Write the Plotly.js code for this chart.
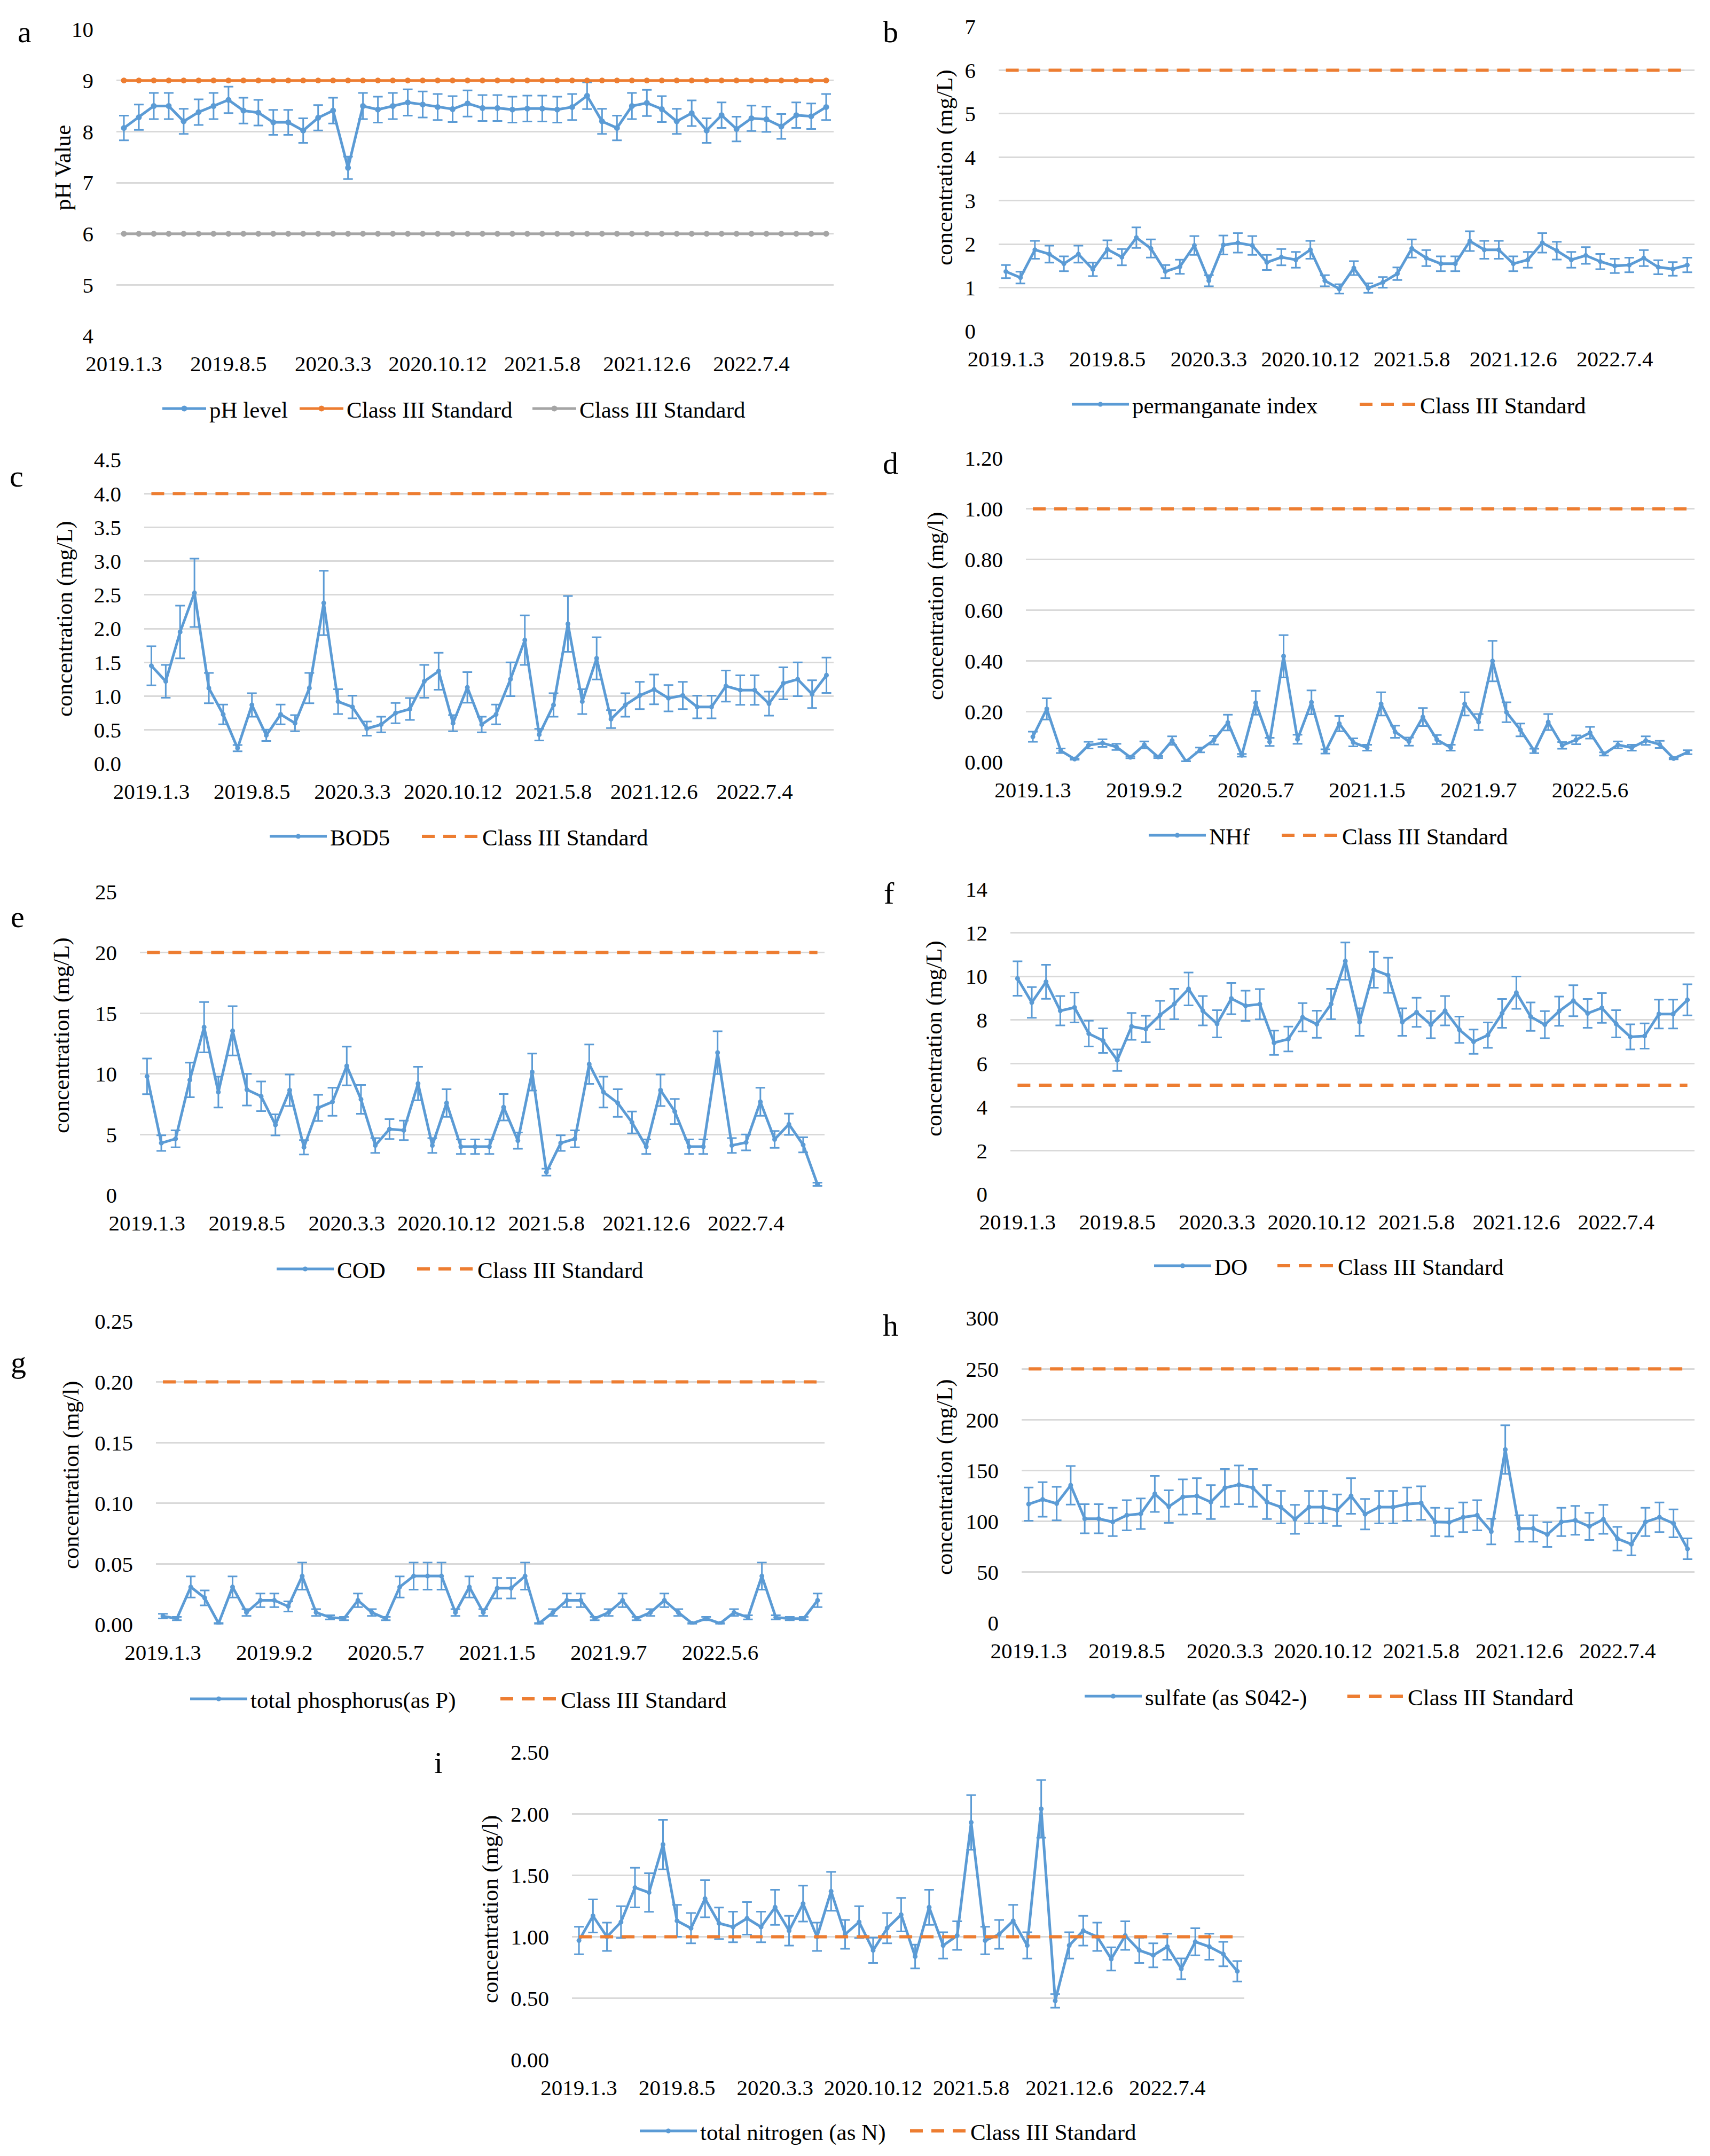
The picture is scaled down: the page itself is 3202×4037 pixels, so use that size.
<!DOCTYPE html>
<html>
<head>
<meta charset="utf-8">
<script src="https://cdn.plot.ly/plotly-3.0.1.min.js"></script>
<style>html,body{margin:0;padding:0;background:#fff;}#chart{width:3202px;height:4037px;}</style>
</head>
<body>
<div id="chart"></div>
<script>
// ---------------- DATA ----------------
const months = ['2019.1','2019.2','2019.3','2019.4','2019.5','2019.6','2019.7','2019.8','2019.9','2019.10','2019.11','2019.12',
  '2020.1','2020.2','2020.3','2020.4','2020.5','2020.6','2020.7','2020.8','2020.9','2020.10','2020.11','2020.12',
  '2021.1','2021.2','2021.3','2021.4','2021.5','2021.6','2021.7','2021.8','2021.9','2021.10','2021.11','2021.12',
  '2022.1','2022.2','2022.3','2022.4','2022.5','2022.6','2022.7','2022.8','2022.9','2022.10','2022.11','2022.12'];

const tickMonths7 = ['2019.1','2019.8','2020.3','2020.10','2021.5','2021.12','2022.7'];
const tickLabels7 = ['2019.1.3','2019.8.5','2020.3.3','2020.10.12','2021.5.8','2021.12.6','2022.7.4'];
const tickMonths8 = ['2019.1','2019.9','2020.5','2021.1','2021.9','2022.5'];
const tickLabels8 = ['2019.1.3','2019.9.2','2020.5.7','2021.1.5','2021.9.7','2022.5.6'];

const phLevel = [8.07,8.28,8.5,8.5,8.2,8.38,8.5,8.62,8.41,8.37,8.18,8.18,8.02,8.27,8.41,7.29,8.5,8.43,8.5,8.57,8.53,8.48,8.44,8.55,8.46,8.46,8.43,8.45,8.45,8.43,8.48,8.7,8.2,8.07,8.5,8.56,8.44,8.2,8.36,8.02,8.32,8.05,8.26,8.24,8.1,8.32,8.3,8.48];
const permanganate = [1.37,1.23,1.87,1.77,1.55,1.77,1.42,1.88,1.7,2.15,1.9,1.37,1.48,1.97,1.16,1.98,2.03,1.97,1.58,1.7,1.64,1.87,1.16,0.97,1.45,0.99,1.12,1.32,1.9,1.68,1.55,1.55,2.07,1.87,1.87,1.55,1.64,2.03,1.85,1.64,1.74,1.6,1.5,1.52,1.68,1.47,1.43,1.52];
const bod5 = [1.45,1.22,1.95,2.53,1.12,0.73,0.23,0.87,0.42,0.73,0.6,1.12,2.38,0.92,0.84,0.52,0.58,0.75,0.81,1.22,1.37,0.6,1.13,0.58,0.73,1.25,1.83,0.43,0.87,2.07,0.92,1.56,0.66,0.87,1.01,1.1,0.97,1.01,0.84,0.84,1.15,1.09,1.09,0.89,1.19,1.25,1.03,1.31];
const nh = [0.10,0.21,0.045,0.012,0.067,0.075,0.06,0.019,0.068,0.02,0.085,0.003,0.048,0.087,0.156,0.027,0.234,0.08,0.418,0.09,0.236,0.042,0.152,0.078,0.057,0.23,0.12,0.081,0.178,0.089,0.057,0.23,0.158,0.399,0.197,0.127,0.044,0.158,0.066,0.088,0.116,0.032,0.068,0.057,0.085,0.07,0.014,0.039];
const cod = [9.8,4.3,4.65,9.5,13.85,8.5,13.55,8.7,8.15,5.8,8.65,3.95,7.2,7.7,10.65,7.9,4.1,5.45,5.35,9.2,4.1,7.6,4.0,4.0,4.0,7.25,4.5,10.15,1.9,4.3,4.65,10.8,8.5,7.6,6.0,4.0,8.65,6.9,4.0,4.0,11.75,4.1,4.35,7.7,4.6,5.85,4.15,0.9];
const dissolvedO = [9.9,8.8,9.75,8.42,8.57,7.37,7.05,6.15,7.7,7.58,8.22,8.73,9.42,8.42,7.82,8.98,8.65,8.72,6.95,7.12,8.12,7.8,8.73,10.7,7.9,10.3,10.05,7.9,8.35,7.78,8.42,7.55,7.0,7.3,8.3,9.25,8.15,7.78,8.4,8.88,8.3,8.55,7.82,7.22,7.26,8.27,8.27,8.92];
const totalP = [0.007,0.005,0.031,0.022,0.001,0.031,0.01,0.02,0.02,0.015,0.04,0.01,0.006,0.005,0.02,0.01,0.005,0.031,0.04,0.04,0.04,0.01,0.031,0.01,0.03,0.03,0.04,0.001,0.01,0.02,0.02,0.005,0.01,0.02,0.005,0.01,0.02,0.01,0.001,0.005,0.001,0.01,0.006,0.04,0.006,0.005,0.005,0.02];
const sulfate = [117,121.5,117.5,135.5,102.6,102.6,99.4,106,107.5,127,114.5,124,125,119,133,136,133,119,114,102,114,114,111,125,107,114,114,117,118,99.4,99,104,106,90,170.6,93,93,87,99.4,101,95,102,83,77.5,99.4,104,98,73];
const totalN = [0.97,1.17,1.0,1.12,1.4,1.36,1.75,1.13,1.07,1.31,1.11,1.08,1.15,1.08,1.24,1.05,1.27,1.0,1.37,1.02,1.12,0.89,1.07,1.18,0.84,1.24,0.93,1.01,1.93,0.97,1.02,1.13,0.93,2.04,0.48,0.93,1.05,1.0,0.82,1.01,0.89,0.85,0.92,0.74,0.96,0.92,0.86,0.72];

// error bar size (percent of value)
const errPct = {a:3, b:11, c:20, d:20, e:15, f:8, g:28, h:14, i:11.5};
// Class III standard values
const standards = {aUpper:9, aLower:6, b:6, c:4, d:1, e:20, f:5, g:0.2, h:250, i:1};

// ---------------- LAYOUT ----------------
const W = 3202, H = 4037;
const FONT = 'Liberation Serif, Times New Roman, serif';
const BLUE = '#5B9BD5', ORANGE = '#ED7D31', GRAY = '#A5A5A5';
const fx = p => p / W, fy = p => 1 - p / H;

// box: [left, right, top, bottom] px of plot area; leg: [left, centerY]; iw: legend key width; lw: legend text widths
const panels = [
  {k:'a', y:phLevel, name:'pH level', range:[4,10], dtick:1, fmt:'d', ytitle:'pH Value', box:[218,1561,55,629], ticks:7, leg:[302,765], iw:80, lw:[162,341], letter:[46,60], yt:[118,314]},
  {k:'b', y:permanganate, name:'permanganate index', range:[0,7], dtick:1, fmt:'d', ytitle:'concentration (mg/L)', box:[1870,3173,50,620], ticks:7, leg:[2005,757], iw:105, lw:[419], letter:[1667,60], yt:[1769,314]},
  {k:'c', y:bod5, name:'BOD5', range:[0,4.5], dtick:0.5, fmt:'.1f', ytitle:'concentration (mg/L)', box:[270,1561,861,1430], ticks:7, leg:[503,1566], iw:105, lw:[165], letter:[31,891], yt:[121,1159]},
  {k:'d', y:nh, name:'NHf', range:[0,1.2], dtick:0.2, fmt:'.2f', ytitle:'concentration (mg/l)', box:[1921,3173,858,1427], ticks:8, leg:[2149,1564], iw:105, lw:[129], letter:[1667,867], yt:[1752,1135]},
  {k:'e', y:cod, name:'COD', range:[0,25], dtick:5, fmt:'d', ytitle:'concentration (mg/L)', box:[262,1544,1670,2238], ticks:7, leg:[516,2376], iw:105, lw:[143], letter:[33,1716], yt:[115,1938]},
  {k:'f', y:dissolvedO, name:'DO', range:[0,14], dtick:2, fmt:'d', ytitle:'concentration (mg/L)', box:[1892,3173,1665,2236], ticks:7, leg:[2159,2370], iw:105, lw:[111], letter:[1665,1672], yt:[1749,1945]},
  {k:'g', y:totalP, name:'total phosphorus(as P)', range:[0,0.25], dtick:0.05, fmt:'.2f', ytitle:'concentration (mg/l)', box:[292,1544,2474,3042], ticks:8, leg:[354,3181], iw:105, lw:[461], letter:[34,2550], yt:[133,2762]},
  {k:'h', y:sulfate, name:'sulfate (as S042-)', range:[0,300], dtick:50, fmt:'d', ytitle:'concentration (mg/L)', box:[1913,3173,2468,3039], ticks:7, leg:[2029,3176], iw:105, lw:[372], letter:[1667,2481], yt:[1769,2766]},
  {k:'i', y:totalN, name:'total nitrogen (as N)', range:[0,2.5], dtick:0.5, fmt:'.2f', ytitle:'concentration (mg/l)', box:[1071,2330,3281,3857], ticks:7, leg:[1196,3990], iw:105, lw:[386], letter:[821,3300], yt:[918,3575]}
];

const data = [];
const layout = {
  width: W, height: H,
  margin: {l:0, r:0, t:0, b:0},
  paper_bgcolor: '#fff', plot_bgcolor: '#fff',
  font: {family: FONT, color: '#000', size: 40},
  showlegend: true,
  annotations: []
};
const legendKeyWidth = {};

panels.forEach((p, idx) => {
  const n = idx + 1;
  const xa = 'x' + (n === 1 ? '' : n), ya = 'y' + (n === 1 ? '' : n);
  const legName = 'legend' + (n === 1 ? '' : n);
  const [x0, x1, yTop, yBot] = p.box;
  legendKeyWidth[legName] = p.iw;

  data.push({
    type: 'scatter', mode: 'lines+markers', x: months, y: p.y, name: p.name,
    xaxis: xa, yaxis: ya, legend: legName, legendwidth: p.lw[0],
    line: {color: BLUE, width: 5},
    marker: {color: BLUE, size: p.k === 'a' ? 11 : 9, symbol: 'circle'},
    error_y: {type: 'percent', value: errPct[p.k], symmetric: true, color: BLUE, thickness: 3, width: 9},
    hoverinfo: 'x+y'
  });
  if (p.k === 'a') {
    data.push({
      type: 'scatter', mode: 'lines+markers', x: months, y: months.map(() => standards.aUpper),
      name: 'Class III Standard', xaxis: xa, yaxis: ya, legend: legName, legendwidth: p.lw[1],
      line: {color: ORANGE, width: 5}, marker: {color: ORANGE, size: 11}
    });
    data.push({
      type: 'scatter', mode: 'lines+markers', x: months, y: months.map(() => standards.aLower),
      name: 'Class III Standard', xaxis: xa, yaxis: ya, legend: legName,
      line: {color: GRAY, width: 5}, marker: {color: GRAY, size: 11}
    });
  } else {
    data.push({
      type: 'scatter', mode: 'lines', x: months, y: months.map(() => standards[p.k]),
      name: 'Class III Standard', xaxis: xa, yaxis: ya, legend: legName,
      line: {color: ORANGE, width: 6, dash: '24px,16px'}
    });
  }

  layout['xaxis' + (n === 1 ? '' : n)] = {
    domain: [fx(x0), fx(x1)], anchor: ya,
    type: 'category', categoryorder: 'array', categoryarray: months,
    range: [-0.5, months.length - 0.5],
    tickmode: 'array',
    tickvals: p.ticks === 7 ? tickMonths7 : tickMonths8,
    ticktext: p.ticks === 7 ? tickLabels7 : tickLabels8,
    tickangle: 0, ticks: '', showgrid: false, showline: false, zeroline: false,
    tickfont: {family: FONT, size: 41, color: '#000'},
    ticklabelstandoff: 24, fixedrange: true
  };
  layout['yaxis' + (n === 1 ? '' : n)] = {
    domain: [fy(yBot), fy(yTop)], anchor: xa,
    range: p.range, tick0: 0, dtick: p.dtick, tickformat: p.fmt,
    showgrid: true, gridcolor: '#D9D9D9', gridwidth: 3,
    zeroline: false, showline: false, ticks: '',
    tickfont: {family: FONT, size: 41, color: '#000'},
    ticklabelstandoff: 42, fixedrange: true
  };
  layout[legName] = {
    orientation: 'h', x: fx(p.leg[0]), y: fy(p.leg[1]), xanchor: 'left', yanchor: 'middle',
    font: {family: FONT, size: 43, color: '#000'}, bgcolor: 'rgba(0,0,0,0)', borderwidth: 0,
    itemwidth: p.iw, traceorder: 'normal'
  };
  layout.annotations.push({
    xref: 'paper', yref: 'paper', x: fx(p.letter[0]), y: fy(p.letter[1]),
    xanchor: 'center', yanchor: 'middle', showarrow: false,
    text: p.k, font: {family: FONT, size: 58, color: '#000'}
  });
  layout.annotations.push({
    xref: 'paper', yref: 'paper', x: fx(p.yt[0]), y: fy(p.yt[1]),
    xanchor: 'center', yanchor: 'middle', showarrow: false, textangle: -90,
    text: p.ytitle, font: {family: FONT, size: 43, color: '#000'}
  });
});

Plotly.newPlot('chart', data, layout, {displayModeBar: false, staticPlot: true}).then(gd => {
  // stretch the legend line samples across the whole key area (Excel-style long legend keys)
  Object.keys(legendKeyWidth).forEach(name => {
    const iw = legendKeyWidth[name];
    gd.querySelectorAll('.' + name + ' .traces').forEach(tr => {
      tr.querySelectorAll('.legendlines path').forEach(pth => pth.setAttribute('d', 'M2,0h' + (iw + 2)));
      tr.querySelectorAll('.legendpoints path.scatterpts').forEach(pth => pth.setAttribute('transform', 'translate(' + (iw / 2 + 3) + ',0)'));
    });
  });
});
</script>
</body>
</html>
